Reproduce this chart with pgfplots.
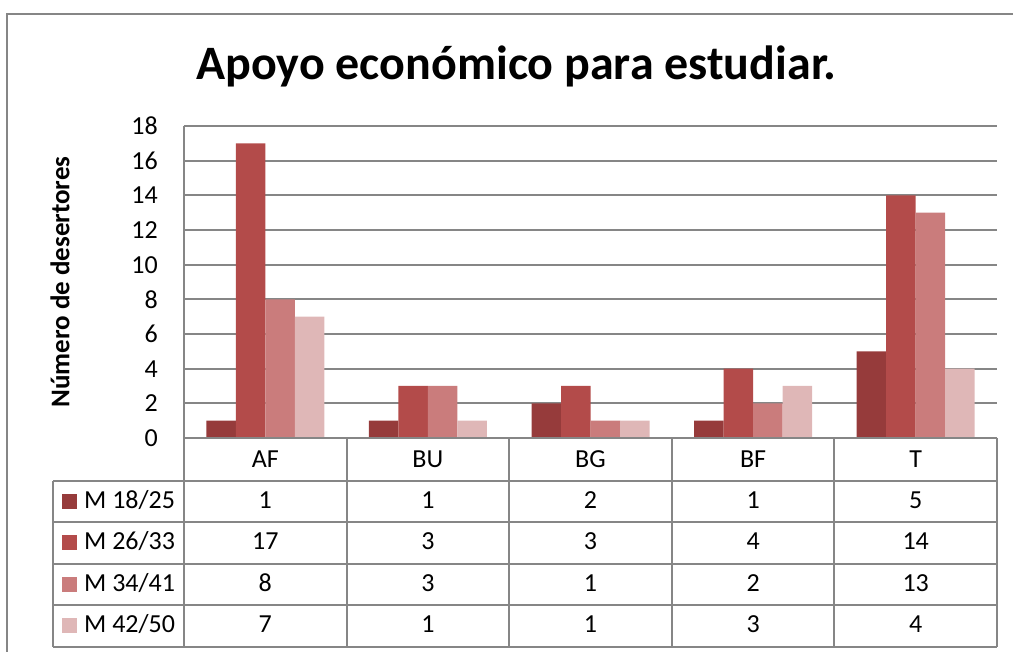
\documentclass[border=0pt]{standalone}
\usepackage{pgfplots}
\pgfplotsset{compat=1.18}
\usepackage{fontspec}
\setmainfont{Carlito}
\definecolor{sA}{HTML}{963B3B}
\definecolor{sB}{HTML}{B34B4A}
\definecolor{sC}{HTML}{CA7C7C}
\definecolor{sD}{HTML}{DFB7B7}
\definecolor{gridgray}{HTML}{868686}
\begin{document}
\begin{tikzpicture}[x=1pt,y=1pt,font=\fontsize{26}{31}\selectfont]
\path[use as bounding box] (0pt,0pt) rectangle (1013pt,652pt);
\draw[gridgray, line width=2pt] (7pt,0pt) -- (7pt,638pt) -- (1013pt,638pt);
\begin{axis}[at={(184pt,214pt)}, anchor=south west, width=813pt, height=312pt, scale only axis,
  xmin=-0.5, xmax=4.5, ymin=0, ymax=18, ytick={0,2,...,18},
  xtick={0,1,2,3,4}, xticklabels={AF,BU,BG,BF,T},
  axis lines*=left, axis line style={gridgray, line width=2pt},
  ymajorgrids, grid style={gridgray, line width=2pt},
  major tick length=0pt, tick style={draw=none},
  ticklabel style={font=\fontsize{26}{31}\selectfont},
  yticklabel style={anchor=east, inner sep=0pt, xshift=-26pt},
  xticklabel style={anchor=base, yshift=-30pt},
  /pgf/number format/assume math mode=true,
  ylabel={Número de desertores},
  ylabel style={at={(axis description cs:-0.1525,0.5)}, anchor=center, font=\fontsize{27}{32}\selectfont\bfseries},
  ybar, bar width=29.5pt]
\addplot[fill=sA, draw=none, bar shift=-44.25pt] coordinates {(0,1) (1,1) (2,2) (3,1) (4,5)};
\addplot[fill=sB, draw=none, bar shift=-14.75pt] coordinates {(0,17) (1,3) (2,3) (3,4) (4,14)};
\addplot[fill=sC, draw=none, bar shift=14.75pt] coordinates {(0,8) (1,3) (2,1) (3,2) (4,13)};
\addplot[fill=sD, draw=none, bar shift=44.25pt] coordinates {(0,7) (1,1) (2,1) (3,3) (4,4)};
\end{axis}
% data table
\draw[gridgray, line width=2pt] (184pt,214pt) -- (997pt,214pt);
\foreach \yy in {171,130,88,47,5} \draw[gridgray, line width=2pt] (53pt,\yy pt) -- (997pt,\yy pt);
\draw[gridgray, line width=2pt] (53pt,171pt) -- (53pt,5pt);
\foreach \xx in {184,346.6,509.2,671.8,834.4,997} \draw[gridgray, line width=2pt] (\xx pt,214pt) -- (\xx pt,5pt);
% legend keys
\fill[sA] (62pt,143pt) rectangle (77pt,158pt);
\fill[sB] (62pt,101.5pt) rectangle (77pt,116.5pt);
\fill[sC] (62pt,60pt) rectangle (77pt,75pt);
\fill[sD] (62pt,18.5pt) rectangle (77pt,33.5pt);
\node[anchor=base west, inner sep=0pt] at (84pt,143pt) {M 18/25};
\node[anchor=base west, inner sep=0pt] at (84pt,102pt) {M 26/33};
\node[anchor=base west, inner sep=0pt] at (84pt,60pt) {M 34/41};
\node[anchor=base west, inner sep=0pt] at (84pt,19pt) {M 42/50};
\foreach \v [count=\i from 0] in {1,1,2,1,5} \node[anchor=base, inner sep=0pt] at ({(184+162.6*(\i+0.5))*1pt},143pt) {\v};
\foreach \v [count=\i from 0] in {17,3,3,4,14} \node[anchor=base, inner sep=0pt] at ({(184+162.6*(\i+0.5))*1pt},102pt) {\v};
\foreach \v [count=\i from 0] in {8,3,1,2,13} \node[anchor=base, inner sep=0pt] at ({(184+162.6*(\i+0.5))*1pt},60pt) {\v};
\foreach \v [count=\i from 0] in {7,1,1,3,4} \node[anchor=base, inner sep=0pt] at ({(184+162.6*(\i+0.5))*1pt},19pt) {\v};
% title
\node[anchor=base, inner sep=0pt, font=\fontsize{48}{57}\selectfont\bfseries] at (516.5pt,572pt) {Apoyo económico para estudiar.};
\end{tikzpicture}
\end{document}
